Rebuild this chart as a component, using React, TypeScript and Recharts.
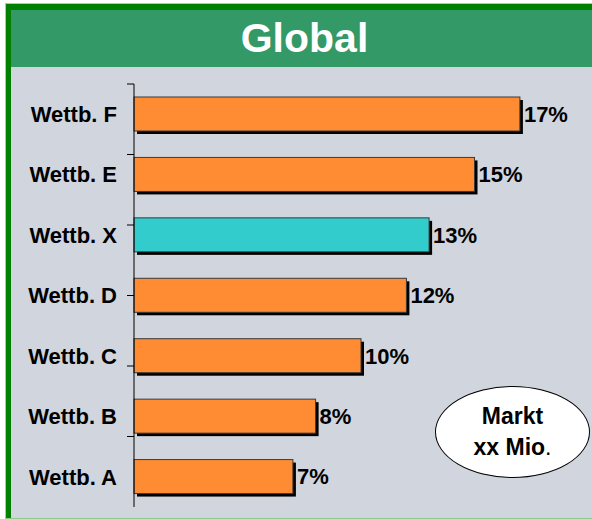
import React from 'react';
import { BarChart, Bar, XAxis, YAxis, Cell, LabelList } from 'recharts';

const categories = ['Wettb. F', 'Wettb. E', 'Wettb. X', 'Wettb. D', 'Wettb. C', 'Wettb. B', 'Wettb. A'];
const shares = [17, 15, 13, 12, 10, 8, 7];
const highlighted = 'Wettb. X';
const bandTicks = [0, 1, 2, 3, 4, 5, 6, 7];

const FONT = '"Liberation Sans", Arial, sans-serif';
const ORANGE = '#FF8C33';
const TEAL = '#33CCCC';
const GRAY = '#D1D5DD';

const data = categories.map((name, i) => ({ name, value: shares[i] }));

// bar with a hard black drop shadow, like the old office charts
const ShadowBar = (props: any) => {
  const { x, y, width, height, fill } = props;
  if (!width || !height) return null;
  return (
    <g>
      <rect x={x + 3} y={y + 3} width={width} height={height} fill="#000" />
      <rect x={x} y={y} width={width} height={height} fill={fill} stroke="#3a3a3a" strokeWidth={1} />
    </g>
  );
};

// plain text tick so the labels don't wrap in the narrow axis
const NameTick = (props: any) => {
  const { x, y, payload } = props;
  return (
    <text x={x} y={y} dy="0.355em" textAnchor="end" fill="#000" fontSize={22} fontWeight="bold" fontFamily={FONT}>
      {payload.value}
    </text>
  );
};

const NoTick = () => <g />;

const App: React.FC = () => {
  return (
    <div style={{ position: 'absolute', left: 0, top: 0, width: 592, height: 519, overflow: 'hidden', fontFamily: FONT }}>
      <div style={{ position: 'absolute', left: 5, top: 3, width: 620, height: 520, background: '#a9cfa9' }} />
      <div style={{ position: 'absolute', left: 6, top: 4, width: 620, height: 520, background: '#008000' }} />
      <div
        style={{
          position: 'absolute', left: 11, top: 10, width: 587, height: 57, background: '#339966',
          color: '#fff', fontWeight: 'bold', fontSize: 41, lineHeight: '57px', textAlign: 'center',
        }}
      >
        Global
      </div>
      <div style={{ position: 'absolute', left: 11, top: 67, width: 587, height: 451, background: GRAY }} />
      <div style={{ position: 'absolute', left: 5, top: 518, width: 600, height: 1, background: '#8fc88f' }} />

      <div style={{ position: 'absolute', left: 0, top: 0 }}>
        <BarChart
          width={592}
          height={519}
          data={data}
          layout="vertical"
          margin={{ top: 84, right: 4, bottom: 12, left: 132 }}
          barSize={34}
        >
          <XAxis type="number" domain={[0, 20]} hide />
          <YAxis
            yAxisId="band"
            type="number"
            domain={[0, 7]}
            ticks={bandTicks}
            allowDataOverflow
            tick={<NoTick />}
            tickSize={7}
            width={1}
            axisLine={{ stroke: '#000', strokeWidth: 1 }}
            tickLine={{ stroke: '#000', strokeWidth: 1 }}
          />
          <YAxis
            yAxisId="cat"
            type="category"
            dataKey="name"
            width={1}
            interval={0}
            axisLine={false}
            tickLine={false}
            tickSize={0}
            tickMargin={16}
            tick={<NameTick />}
          />
          <Bar yAxisId="cat" dataKey="value" shape={ShadowBar} isAnimationActive={false}>
            {data.map((d) => (
              <Cell key={d.name} fill={d.name === highlighted ? TEAL : ORANGE} />
            ))}
            <LabelList
              dataKey="value"
              position="right"
              offset={4}
              formatter={(v: any) => `${v}%`}
              fill="#000"
              fontSize={22}
              fontWeight="bold"
              fontFamily={FONT}
            />
          </Bar>
        </BarChart>
      </div>

      <div
        style={{
          position: 'absolute', left: 435, top: 386, width: 155, height: 92, boxSizing: 'border-box',
          border: '1.5px solid #000', borderRadius: '50%', background: '#fff',
          display: 'flex', flexDirection: 'column', alignItems: 'center', justifyContent: 'center',
          fontWeight: 'bold', fontSize: 23, lineHeight: '31px', color: '#000',
        }}
      >
        <div>Markt</div>
        <div>
          xx Mio<span style={{ fontWeight: 'normal' }}>.</span>
        </div>
      </div>
    </div>
  );
};

export default App;
